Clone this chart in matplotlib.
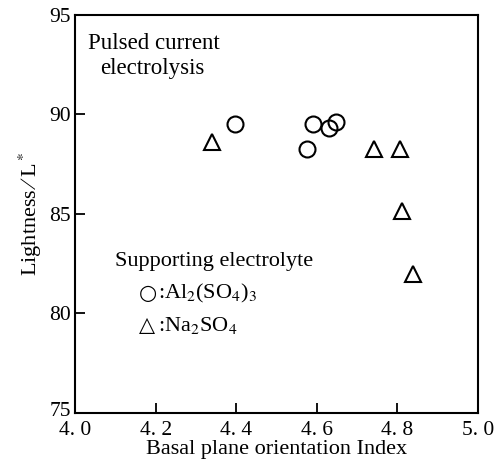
import matplotlib
matplotlib.use('Agg')
import matplotlib.pyplot as plt
import matplotlib.transforms as mtransforms

# data
al_x = [4.397, 4.576, 4.591, 4.630, 4.648]
al_y = [89.52, 88.27, 89.52, 89.34, 89.60]
na_x = [4.341, 4.742, 4.808, 4.813, 4.838]
na_y = [88.63, 88.27, 88.27, 85.12, 81.98]
xticks = [4.0, 4.2, 4.4, 4.6, 4.8, 5.0]
xticklabels = ['4. 0', '4. 2', '4. 4', '4. 6', '4. 8', '5. 0']
yticks = [75, 80, 85, 90, 95]

plt.rcParams['font.family'] = ['Liberation Serif', 'DejaVu Sans']
plt.rcParams['mathtext.fontset'] = 'stix'

fig = plt.figure(figsize=(5.04, 4.67), dpi=100)
ax = fig.add_axes([0.149, 0.116, 0.799, 0.852])

ax.plot(al_x, al_y, 'o', ms=11.5, mfc='none', mec='black', mew=1.5, ls='none')
ax.plot(na_x, na_y, '^', ms=12, mfc='none', mec='black', mew=1.5, ls='none')

ax.set_xlim(4.0, 5.0)
ax.set_ylim(75, 95)
ax.set_xticks(xticks)
ax.set_xticklabels(xticklabels)
ax.set_yticks(yticks)
ax.tick_params(direction='in', length=7, width=1.3)
ax.tick_params(axis='x', pad=6, labelsize=15.5)
ax.tick_params(axis='y', pad=3, labelsize=15.5)
ax.tick_params(top=False, right=False)
for s in ax.spines.values():
    s.set_linewidth(1.5)

# nudge the bottom y label up a little so it clears "4. 0"
lab75 = ax.get_yticklabels()[0]
lab75.set_transform(lab75.get_transform() +
                    mtransforms.ScaledTranslation(0, 3 / 72, fig.dpi_scale_trans))

ax.set_xlabel('Basal plane orientation Index', fontsize=16, labelpad=0)
ax.set_ylabel('Lightness\u2009\u2215\u2009L$^*$', fontsize=16, labelpad=4)

ax.text(4.032, 93.55, 'Pulsed current', fontsize=16.5, va='center')
ax.text(4.062, 92.3, 'electrolysis', fontsize=16.5, va='center')
ax.text(4.1, 82.6, 'Supporting electrolyte', fontsize=16, va='center')
ax.text(4.158, 81.0, '\u25cb', fontsize=15, va='center', family='DejaVu Sans')
ax.text(4.205, 81.0, ':Al$_2$(SO$_4$)$_3$', fontsize=16, va='center')
ax.text(4.158, 79.4, '\u25b3', fontsize=15, va='center', family='DejaVu Sans')
ax.text(4.205, 79.4, ':Na$_2$SO$_4$', fontsize=16, va='center')

fig.savefig('out.png', dpi=100)
